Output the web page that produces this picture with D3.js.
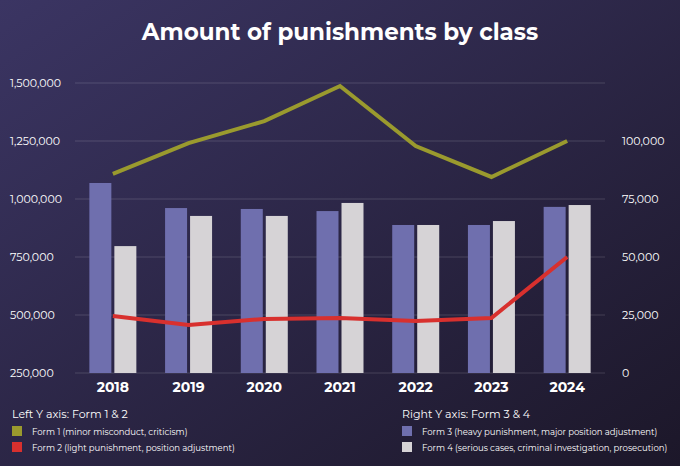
<!DOCTYPE html>
<html><head><meta charset="utf-8">
<script src="https://cdn.jsdelivr.net/npm/d3@7"></script>
<style>body{margin:0}svg{display:block}</style></head>
<body><svg id="c" width="680" height="466"></svg>
<script>
const years=["2018","2019","2020","2021","2022","2023","2024"];
const form1=[1108000,1241000,1336000,1487000,1228000,1095000,1250000];
const form2=[496000,457000,483000,487000,474000,487000,750000];
const form3=[81900,71100,70700,69800,63800,63800,71600];
const form4=[54700,67700,67700,73300,63800,65500,72400];
const leftTicks=[250000,500000,750000,1000000,1250000,1500000];
const rightTicks=[0,25000,50000,75000,100000];
const C={f1:"#9a9a2e",f2:"#d8302e",f3:"#6f6fae",f4:"#d6d3d6"};
const svg=d3.select("#c");
const defs=svg.append("defs");
const g=defs.append("linearGradient").attr("id","bg").attr("x1","0").attr("y1","0").attr("x2","1").attr("y2","1");
g.append("stop").attr("offset","0").attr("stop-color","#3b3563");
g.append("stop").attr("offset","1").attr("stop-color","#1c1729");
svg.append("rect").attr("width",680).attr("height",466).attr("fill","url(#bg)");
const F="Montserrat, 'Open Sans', Lato, sans-serif";
svg.append("text").attr("x",340).attr("y",40).attr("text-anchor","middle").attr("fill","#fff")
 .attr("font-family",F).attr("font-weight",700).attr("font-size",23).text("Amount of punishments by class");
const plotTop=83,plotBot=373;
const yL=d3.scaleLinear().domain([250000,1500000]).range([plotBot,plotTop]);
const yR=d3.scaleLinear().domain([0,125000]).range([plotBot,plotTop]);
const x=d3.scaleBand().domain(years).range([75,605]).paddingInner(0.0).paddingOuter(0);
const fmt=d3.format(",");
leftTicks.forEach(t=>{
 svg.append("line").attr("x1",75).attr("x2",605).attr("y1",yL(t)).attr("y2",yL(t)).attr("stroke","#ffffff").attr("stroke-opacity",0.15);
 svg.append("text").attr("x",10).attr("y",yL(t)+4).attr("fill","#fff").attr("font-family",F).attr("font-size",11).text(fmt(t));
});
rightTicks.forEach(t=>{
 svg.append("text").attr("x",622).attr("y",yR(t)+4).attr("fill","#fff").attr("font-family",F).attr("font-size",11).text(fmt(t));
});
const bw=22;
years.forEach((y,i)=>{
 const cx=x(y)+x.bandwidth()/2;
 svg.append("rect").attr("x",cx-bw-1.5).attr("width",bw).attr("y",yR(form3[i])).attr("height",plotBot-yR(form3[i])).attr("fill",C.f3);
 svg.append("rect").attr("x",cx+1.5).attr("width",bw).attr("y",yR(form4[i])).attr("height",plotBot-yR(form4[i])).attr("fill",C.f4);
 svg.append("text").attr("x",cx).attr("y",392).attr("text-anchor","middle").attr("fill","#fff").attr("font-family",F).attr("font-weight",700).attr("font-size",14).text(y);
});
const line=d3.line().x((d,i)=>x(years[i])+x.bandwidth()/2).y(d=>yL(d));
svg.append("path").attr("d",line(form1)).attr("fill","none").attr("stroke",C.f1).attr("stroke-width",4);
svg.append("path").attr("d",line(form2)).attr("fill","none").attr("stroke",C.f2).attr("stroke-width",4);
svg.append("text").attr("x",12).attr("y",418).attr("fill","#fff").attr("font-family",F).attr("font-size",11).text("Left Y axis: Form 1 & 2");
svg.append("text").attr("x",402).attr("y",418).attr("fill","#fff").attr("font-family",F).attr("font-size",11).text("Right Y axis: Form 3 & 4");
const leg=[[12,435,C.f1,"Form 1 (minor misconduct, criticism)"],[12,451,C.f2,"Form 2 (light punishment, position adjustment)"],
 [402,435,C.f3,"Form 3 (heavy punishment, major position adjustment)"],[402,451,C.f4,"Form 4 (serious cases, criminal investigation, prosecution)"]];
leg.forEach(([lx,ly,c,t])=>{
 svg.append("rect").attr("x",lx).attr("y",ly-9).attr("width",10).attr("height",10).attr("fill",c);
 svg.append("text").attr("x",lx+20).attr("y",ly).attr("fill","#fff").attr("font-family",F).attr("font-size",8.5).text(t);
});
</script></body></html>
